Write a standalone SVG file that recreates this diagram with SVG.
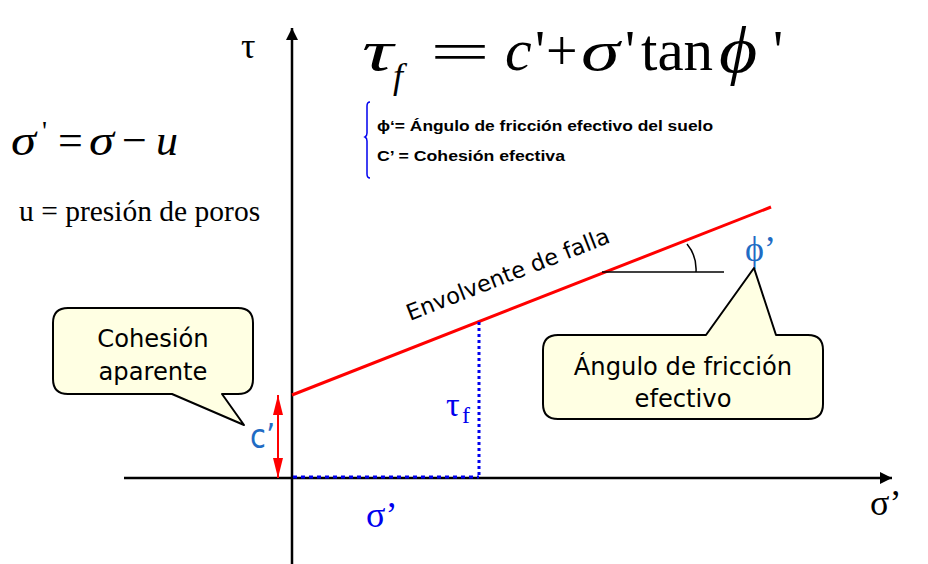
<svg xmlns="http://www.w3.org/2000/svg" width="928" height="564" viewBox="0 0 928 564">
<defs>
<style>
.serif{font-family:"Liberation Serif","Times New Roman",serif}
.it{font-style:italic}
.sans{font-family:"DejaVu Sans","Verdana",sans-serif}
.bold{font-family:"Liberation Sans",Arial,sans-serif;font-weight:bold;font-size:15.5px}
.callout{fill:#FFFFE3;stroke:#000;stroke-width:2;stroke-linejoin:round}
.blue{fill:#0000EE}
.lblue{fill:#1F6CC4}
</style>
<marker id="arrBig" viewBox="0 0 12 12" refX="12" refY="6" markerWidth="13" markerHeight="12" markerUnits="userSpaceOnUse" orient="auto"><path d="M0,0 L12,6 L0,12 z" fill="#000"/></marker>
<marker id="ra" viewBox="0 0 20 10" refX="20" refY="5" markerWidth="20" markerHeight="10" markerUnits="userSpaceOnUse" orient="auto"><path d="M0,0 L20,5 L0,10 z" fill="#FF0000"/></marker>
</defs>
<rect width="928" height="564" fill="#fff"/>

<g id="connectors">
<line x1="292" y1="564" x2="292" y2="28" stroke="#000" stroke-width="2.5" marker-end="url(#arrBig)"/>
<line x1="124" y1="478" x2="892" y2="478" stroke="#000" stroke-width="2.5" marker-end="url(#arrBig)"/>
<line x1="292" y1="395" x2="771" y2="207" stroke="#FF0000" stroke-width="3"/>
<line x1="479" y1="322" x2="479" y2="477" stroke="#0000EE" stroke-width="3" stroke-dasharray="3,3"/>
<line x1="293" y1="477" x2="479" y2="477" stroke="#0000EE" stroke-width="3" stroke-dasharray="4,4"/>
<line x1="278" y1="437" x2="278" y2="395" stroke="#FF0000" stroke-width="2" marker-end="url(#ra)"/>
<line x1="278" y1="437" x2="278" y2="478" stroke="#FF0000" stroke-width="2" marker-end="url(#ra)"/>
<line x1="602" y1="272" x2="724" y2="272" stroke="#000" stroke-width="1.5"/>
<path d="M687,244 Q697,256 696,272" fill="none" stroke="#000" stroke-width="1.5"/>
</g>

<g id="formula-main">
<text class="serif it" font-size="58" transform="translate(362,70) scale(1.5,1)">τ</text>
<text class="serif it" font-size="36" x="393" y="88">f</text>
<text class="serif" font-size="56" transform="translate(430,70) scale(1.9,1)">=</text>
<text class="serif it" font-size="60" x="505" y="70">c</text>
<text class="serif" font-size="56" x="535" y="70">'</text>
<text class="serif" font-size="56" x="546" y="70">+</text>
<text class="serif it" font-size="58" transform="translate(581,70) scale(1.35,1)">σ</text>
<text class="serif" font-size="56" x="625" y="70">'</text>
<text class="serif" font-size="59" x="641" y="70">tan</text>
<text class="serif it" font-size="66" transform="translate(719,72) scale(1.12,1)">ϕ</text>
<text class="serif" font-size="56" x="773" y="70">'</text>
</g>

<g id="formula-left">
<text class="serif it" font-size="44" transform="translate(11,155) scale(1.15,1)">σ</text>
<text class="serif" font-size="28" x="42" y="140">'</text>
<text class="serif" font-size="44" x="58" y="155">=</text>
<text class="serif it" font-size="44" transform="translate(89,155) scale(1.15,1)">σ</text>
<text class="serif" font-size="44" x="122" y="155">−</text>
<text class="serif it" font-size="44" x="156" y="155">u</text>
<text class="serif" font-size="29.5" x="19" y="221">u = presión de poros</text>
</g>

<g id="legend">
<path d="M370,102 Q367,102 367,106 L367,133 Q367,136 365,137 Q367,138 367,141 L367,174 Q367,178 370,178" fill="none" stroke="#0000EE" stroke-width="1.5"/>
<text class="bold" x="377" y="131" textLength="336" lengthAdjust="spacingAndGlyphs">ϕ‘= Ángulo de fricción efectivo del suelo</text>
<text class="bold" x="377" y="161" textLength="188" lengthAdjust="spacingAndGlyphs">C’ = Cohesión efectiva</text>
</g>

<g id="axis-labels">
<text class="serif" font-size="36" x="241" y="58">τ</text>
<text class="serif" font-size="36" x="870" y="515">σ’</text>
<text class="serif blue" font-size="36" x="366" y="527">σ’</text>
<text class="serif blue" font-size="34" x="446" y="416">τ</text>
<text class="serif blue" font-size="24" x="462" y="423">f</text>
<text class="sans lblue" font-size="34" transform="translate(250,448) scale(0.85,1)">c’</text>
<text class="serif lblue" font-size="36" x="745" y="261">ϕ’</text>
<text class="sans" font-size="22.5" transform="translate(410,321) rotate(-21.4)">Envolvente de falla</text>
</g>

<g id="callout-cohesion">
<path class="callout" d="M68,308 L238,308 Q253,308 253,323 L253,379 Q253,394 238,394 L222,394 L244,425 L172,394 L68,394 Q53,394 53,379 L53,323 Q53,308 68,308 Z"/>
<text class="sans" font-size="24.2" text-anchor="middle" x="153" y="347">Cohesión</text>
<text class="sans" font-size="24.2" text-anchor="middle" x="153" y="380">aparente</text>
</g>

<g id="callout-angulo">
<path class="callout" d="M558,335 L706,335 L754,268 L776,335 L808,335 Q823,335 823,350 L823,404 Q823,419 808,419 L558,419 Q543,419 543,404 L543,350 Q543,335 558,335 Z"/>
<text class="sans" font-size="24.2" text-anchor="middle" x="683" y="375">Ángulo de fricción</text>
<text class="sans" font-size="24.2" text-anchor="middle" x="683" y="407">efectivo</text>
</g>
</svg>
